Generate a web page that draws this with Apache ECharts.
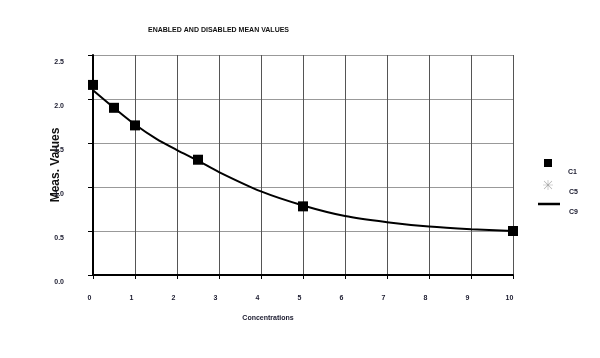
<!DOCTYPE html>
<html>
<head>
<meta charset="utf-8">
<script src="https://cdn.jsdelivr.net/npm/echarts@6/dist/echarts.min.js"></script>
<style>html,body{margin:0;padding:0;background:#fff}#c{width:600px;height:358px}</style>
</head>
<body>
<div id="c"></div>
<script>
const titleText = 'ENABLED AND DISABLED MEAN VALUES';
const xName = 'Concentrations';
const yName = 'Meas. Values';
const xTicks = ['0','1','2','3','4','5','6','7','8','9','10'];
const yTicks = ['0.0','0.5','1.0','1.5','2.0','2.5'];
const c1X = [0, 0.5, 1, 2.5, 5, 10];
const c1Y = [2.16, 1.90, 1.70, 1.31, 0.78, 0.50];
const c5X = [];
const c5Y = [];
const c9X = [0, 0.5, 1, 1.5, 2, 2.5, 3, 4, 5, 6, 7, 8, 9, 10];
const c9Y = [2.10, 1.90, 1.71, 1.55, 1.42, 1.30, 1.17, 0.95, 0.79, 0.67, 0.60, 0.55, 0.52, 0.50];

const pairs = (xs, ys) => xs.map((x, i) => [x, ys[i]]);
const FONT = 'Liberation Sans, Arial, sans-serif';
const asterisk = 'path://M9.4 0H10.6V20H9.4Z M0 9.4H20V10.6H0Z M2.4 1.6L18.4 17.6L17.6 18.4L1.6 2.4Z M17.6 1.6L18.4 2.4L2.4 18.4L1.6 17.6Z';
const lineIcon = 'path://M0 0H22V2.5H0Z';

const chart = echarts.init(document.getElementById('c'));
const legendText = (lh, padLeft) => ({
  fontFamily: FONT, fontSize: 7, fontWeight: 'bold', color: '#1a1a2e',
  lineHeight: lh, padding: [0, 0, 0, padLeft]
});
chart.setOption({
  animation: false,
  backgroundColor: '#fff',
  title: {
    text: titleText, left: 148, top: 27, padding: 0,
    textStyle: { fontFamily: FONT, fontSize: 7, fontWeight: 'bold', color: '#111' }
  },
  grid: { left: 93, right: 87, top: 55, bottom: 83 },
  xAxis: {
    type: 'value', min: 0, max: 10, interval: 1,
    name: xName, nameLocation: 'middle', nameGap: 40,
    nameTextStyle: { fontFamily: FONT, fontSize: 7, fontWeight: 'bold', color: '#1a1a2e', padding: [0, 70, 0, 0] },
    axisLine: { show: true, onZero: false, lineStyle: { color: '#000', width: 2 } },
    axisTick: { show: true, length: 4, lineStyle: { color: '#000', width: 1 } },
    axisLabel: {
      margin: 20, fontFamily: FONT, fontSize: 7, fontWeight: 'bold', color: '#1a1a2e',
      padding: [0, 7, 0, 0],
      formatter: (v) => xTicks[Math.round(v)]
    },
    splitLine: { show: true, lineStyle: { color: '#555', width: 1 } }
  },
  yAxis: {
    type: 'value', min: 0, max: 2.5, interval: 0.5,
    name: yName, nameLocation: 'middle', nameGap: 31, nameRotate: 90, nameMoveOverlap: false,
    nameTextStyle: { fontFamily: FONT, fontSize: 12, fontWeight: 'bold', color: '#111' },
    axisLine: { show: true, onZero: false, lineStyle: { color: '#000', width: 2 } },
    axisTick: { show: true, length: 5, lineStyle: { color: '#000', width: 1 } },
    axisLabel: {
      margin: 29, fontFamily: FONT, fontSize: 7, fontWeight: 'bold', color: '#1a1a2e',
      verticalAlign: 'top', padding: [4, 0, 0, 0],
      formatter: (v) => yTicks[Math.round(v * 2)]
    },
    splitLine: { show: true, lineStyle: { color: '#999', width: 1 } }
  },
  legend: [
    { data: [{ name: 'C1', icon: 'rect' }], orient: 'vertical', left: 544, top: 145, padding: 0,
      itemWidth: 8, itemHeight: 8, formatter: (n) => '\n' + n, textStyle: legendText(18, 11) },
    { data: [{ name: 'C5', icon: asterisk }], orient: 'vertical', left: 543, top: 171, padding: 0,
      itemWidth: 10, itemHeight: 10, formatter: (n) => '\n' + n, textStyle: legendText(14, 11) },
    { data: [{ name: 'C9', icon: lineIcon }], orient: 'vertical', left: 538, top: 188, padding: 0,
      itemWidth: 22, itemHeight: 2.5, formatter: (n) => '\n' + n, textStyle: legendText(16, 4) }
  ],
  series: [
    { name: 'C9', type: 'line', data: pairs(c9X, c9Y), smooth: 0.3, symbol: 'none',
      lineStyle: { color: '#000', width: 2 }, itemStyle: { color: '#000' }, z: 3 },
    { name: 'C1', type: 'scatter', data: pairs(c1X, c1Y), symbol: 'rect', symbolSize: 10,
      itemStyle: { color: '#000', opacity: 1 }, z: 4 },
    { name: 'C5', type: 'scatter', data: pairs(c5X, c5Y), symbol: asterisk, symbolSize: 10,
      itemStyle: { color: '#aaa', opacity: 1 }, z: 4 }
  ]
});
</script>
</body>
</html>
